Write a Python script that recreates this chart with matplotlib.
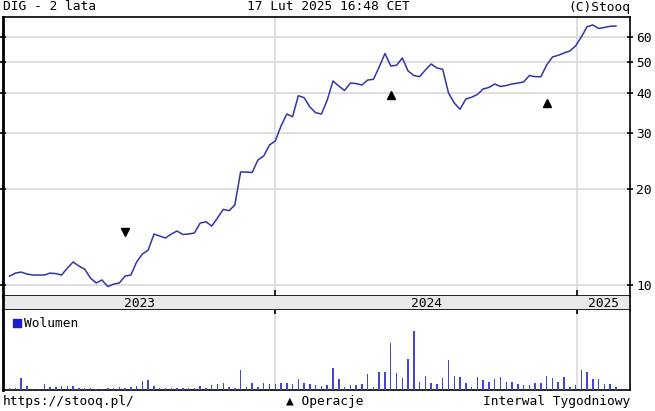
import numpy as np
import pandas as pd
import matplotlib
matplotlib.use("Agg")
import matplotlib.pyplot as plt
import matplotlib.dates as mdates
from matplotlib.ticker import FixedLocator, NullLocator, FuncFormatter

# weekly closes, DIG, last 2 years
dates = pd.date_range("2023-02-13", periods=106, freq="7D")
price = [10.67, 10.90, 10.98, 10.83, 10.75, 10.75, 10.75, 10.90, 10.86, 10.75,
         11.30, 11.81, 11.47, 11.22, 10.52, 10.15, 10.37, 9.89, 10.07, 10.15,
         10.67, 10.75, 11.81, 12.51, 12.87, 14.45, 14.24, 14.04, 14.45, 14.77,
         14.40, 14.45, 14.56, 15.64, 15.79, 15.31, 16.22, 17.27, 17.10, 17.82,
         22.61, 22.60, 22.53, 24.65, 25.38, 27.48, 28.28, 31.51, 34.36, 33.70,
         39.22, 38.65, 36.14, 34.68, 34.36, 38.00, 43.60, 42.05, 40.71, 42.96,
         42.81, 42.36, 43.91, 44.13, 48.25, 53.19, 48.60, 48.84, 51.48, 46.87,
         45.37, 44.98, 47.21, 49.30, 47.90, 47.45, 40.00, 37.19, 35.54, 38.29,
         38.78, 39.55, 41.16, 41.61, 42.67, 41.91, 42.21, 42.67, 42.96, 43.28,
         45.37, 44.98, 44.98, 48.95, 51.85, 52.49, 53.37, 54.15, 56.14, 59.91,
         64.53, 65.32, 63.71, 64.18, 64.71, 64.85]
volume = [2, 2, 12, 4, 1, 1, 6, 3, 3, 4,
          4, 4, 2, 2, 2, 1, 1, 2, 2, 3,
          2, 3, 4, 9, 10, 4, 2, 2, 2, 2,
          2, 2, 2, 4, 2, 5, 6, 7, 3, 2,
          20, 3, 7, 3, 7, 6, 6, 7, 7, 6,
          11, 7, 6, 5, 4,
          5, 22, 10.7, 2.7, 5, 5, 6, 15.7, 2.7, 18,
          18, 46, 16.7, 11.7, 31, 58, 8.3, 14, 7.3, 6,
          11.7, 30, 14, 13.3, 7.3, 2.7, 12.7, 10, 8.3, 11.3,
          13.3, 8.3, 8.3, 6, 5, 5, 7.3, 7.3, 14, 11.7,
          8.3, 13.3, 2.7, 5, 19.3, 17.7, 11, 11, 6, 6, 2.7]

# operations (markers)
op_down_dates = pd.to_datetime(["2023-07-03"])
op_down_vals = [14.66]
op_up_dates = pd.to_datetime(["2024-05-20", "2024-11-25"])
op_up_vals = [39.4, 37.1]

yticks = [10, 20, 30, 40, 50, 60]
years = ["2023", "2024", "2025"]
year_starts = pd.to_datetime(["2024-01-01", "2025-01-01"])

mono = "DejaVu Sans Mono"
line_col = "#3434a8"
bar_col = "#4545d2"
grid_col = "#dcdcdc"
fs = 9.3

xmin = pd.Timestamp("2023-02-05")
xmax = pd.Timestamp("2025-03-06")

fig = plt.figure(figsize=(6.55, 4.11), dpi=100)
W, H = 655, 411

def box(x0, y0, x1, y1):
    return [x0 / W, 1 - y1 / H, (x1 - x0) / W, (y1 - y0) / H]

ax = fig.add_axes(box(3, 17, 630, 296))
axb = fig.add_axes(box(3, 296, 630, 310), sharex=ax)
axv = fig.add_axes(box(3, 310, 630, 390), sharex=ax)

# price panel
ax.plot(dates, price, color=line_col, lw=1.1, zorder=3)
ax.plot(op_down_dates, op_down_vals, "v", color="black", ms=6, zorder=4)
ax.plot(op_up_dates, op_up_vals, "^", color="black", ms=6, zorder=4)
ax.set_yscale("log")
ax.set_ylim(9.24, 69.2)
ax.set_xlim(xmin, xmax)
ax.yaxis.set_major_locator(FixedLocator(yticks))
ax.yaxis.set_minor_locator(NullLocator())
ax.yaxis.set_major_formatter(FuncFormatter(lambda v, p: f"{v:g}"))
ax.yaxis.tick_right()
ax.tick_params(axis="y", which="major", direction="inout", length=5, width=1.2,
               left=True, right=True, labelsize=fs, pad=2)
ax.xaxis.set_major_locator(FixedLocator(mdates.date2num(year_starts)))
ax.xaxis.set_minor_locator(NullLocator())
ax.tick_params(axis="x", direction="in", length=4, width=1.2, labelbottom=False)
ax.grid(True, color=grid_col, lw=1.3, zorder=0)
for lab in ax.get_yticklabels():
    lab.set_family(mono)
for s in ax.spines.values():
    s.set_color("black")
    s.set_linewidth(1.2)
ax.spines["left"].set_linewidth(2)

# year band
axb.set_facecolor("#e9e9e9")
axb.tick_params(left=False, bottom=False, labelleft=False, labelbottom=False)
axb.set_yticks([])
for s in axb.spines.values():
    s.set_color("black")
    s.set_linewidth(1.2)
axb.spines["left"].set_linewidth(2)
axb.spines["top"].set_visible(False)
bounds = [xmin] + list(year_starts) + [xmax]
for i, y in enumerate(years):
    mid = bounds[i] + (bounds[i + 1] - bounds[i]) / 2
    axb.text(mid, 0.45, y, ha="center", va="center", family=mono, fontsize=fs,
             transform=axb.get_xaxis_transform())

# volume panel
axv.bar(dates, volume, width=1.8, color=bar_col, zorder=3)
axv.set_ylim(0, 79)
axv.set_yticks([])
axv.xaxis.set_major_locator(FixedLocator(mdates.date2num(year_starts)))
axv.tick_params(axis="x", direction="in", length=3, width=1.2, top=True,
                bottom=False, labelbottom=False)
axv.grid(True, axis="x", color=grid_col, lw=1.3, zorder=0)
for s in axv.spines.values():
    s.set_color("black")
    s.set_linewidth(1.2)
axv.spines["left"].set_linewidth(2)
axv.spines["top"].set_visible(False)
axv.plot([0.022], [0.835], "s", color="#1c1cc8", ms=5.5, transform=axv.transAxes)
axv.text(0.034, 0.835, "Wolumen", family=mono, fontsize=fs, va="center",
         transform=axv.transAxes)

# header / footer
fig.text(3 / W, 1 - 7 / H, "DIG - 2 lata", family=mono, fontsize=fs, va="center")
fig.text(328 / W, 1 - 7 / H, "17 Lut 2025 16:48 CET", family=mono, fontsize=fs,
         va="center", ha="center")
fig.text(630 / W, 1 - 7 / H, "(C)Stooq", family=mono, fontsize=fs, va="center",
         ha="right")
fig.text(3 / W, 1 - 401 / H, "https://stooq.pl/", family=mono, fontsize=fs,
         va="center")
fig.text(325 / W, 1 - 401 / H, "\u25b2 Operacje", family=mono, fontsize=fs,
         va="center", ha="center")
fig.text(630 / W, 1 - 401 / H, "Interwal Tygodniowy", family=mono, fontsize=fs,
         va="center", ha="right")

fig.savefig("out.png", dpi=100)
